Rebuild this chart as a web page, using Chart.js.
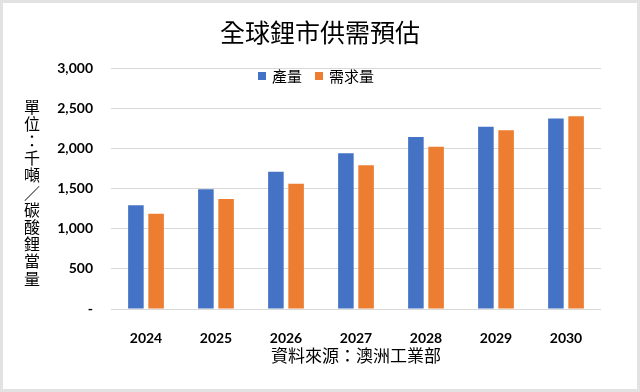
<!DOCTYPE html>
<html>
<head>
<meta charset="utf-8">
<script src="https://cdn.jsdelivr.net/npm/chart.js@4/dist/chart.umd.min.js"></script>
<style>
    body { margin: 0; background: #fff; }
    #chart { display: block; }
</style>
</head>
<body>
<canvas id="chart" width="640" height="392"></canvas>
<script>
const years = ['2024', '2025', '2026', '2027', '2028', '2029', '2030'];
const production = [1290, 1490, 1710, 1940, 2140, 2270, 2370];
const demand = [1185, 1370, 1560, 1790, 2020, 2225, 2400];
const seriesNames = ['產量', '需求量'];
const seriesColors = ['#4472C4', '#ED7D31'];
const chartTitle = '全球鋰市供需預估';
const yTitle = '單位：千噸／碳酸鋰當量';
const sourceNote = '資料來源：澳洲工業部';

const cjkFont = '"Noto Sans CJK TC", "Noto Sans", sans-serif';
const numFont = 'Lato, "Noto Sans CJK TC", sans-serif';

// white background + light frame round the whole picture
const framePlugin = {
    id: 'frame',
    beforeDraw(chart) {
        const ctx = chart.ctx;
        ctx.save();
        ctx.fillStyle = '#fff';
        ctx.fillRect(0, 0, chart.width, chart.height);
        ctx.restore();
    },
    afterDraw(chart) {
        const ctx = chart.ctx;
        ctx.save();
        ctx.strokeStyle = '#e2e2e2';
        ctx.lineWidth = 3;
        ctx.strokeRect(1.5, 1.5, chart.width - 3, chart.height - 3);
        ctx.restore();
    }
};

// upright stacked y-axis title (Excel style)
const verticalTitlePlugin = {
    id: 'verticalTitle',
    afterDraw(chart) {
        const ctx = chart.ctx;
        const chars = Array.from(yTitle);
        const step = 17.2;
        const midY = (chart.chartArea.top + chart.chartArea.bottom) / 2 + 4;
        const startY = midY - step * (chars.length - 1) / 2;
        ctx.save();
        ctx.font = '16px ' + cjkFont;
        ctx.fillStyle = '#000';
        ctx.textAlign = 'center';
        ctx.textBaseline = 'middle';
        chars.forEach((c, i) => ctx.fillText(c, 32, startY + i * step));
        ctx.restore();
    }
};

// legend drawn inside the plot, left of centre like the original
const legendPlugin = {
    id: 'insideLegend',
    afterDraw(chart) {
        const ctx = chart.ctx;
        const box = 8, gap = 6, itemGap = 13;
        ctx.save();
        ctx.font = '15px ' + cjkFont;
        const items = chart.data.datasets.map(ds => ({
            label: ds.label,
            color: ds.backgroundColor,
            w: box + gap + ctx.measureText(ds.label).width
        }));
        const total = items.reduce((s, it) => s + it.w, 0) + itemGap * (items.length - 1);
        let x = 316 - total / 2;
        const y = 76;
        ctx.textBaseline = 'middle';
        ctx.textAlign = 'left';
        items.forEach(it => {
            ctx.fillStyle = it.color;
            ctx.fillRect(x, y - box / 2, box, box);
            ctx.fillStyle = '#000';
            ctx.fillText(it.label, x + box + gap, y);
            x += it.w + itemGap;
        });
        ctx.restore();
    }
};

new Chart(document.getElementById('chart'), {
    type: 'bar',
    data: {
        labels: years,
        datasets: [
            {
                label: seriesNames[0],
                data: production,
                backgroundColor: seriesColors[0],
                barPercentage: 0.77,
                categoryPercentage: 0.577
            },
            {
                label: seriesNames[1],
                data: demand,
                backgroundColor: seriesColors[1],
                barPercentage: 0.77,
                categoryPercentage: 0.577
            }
        ]
    },
    options: {
        responsive: false,
        animation: false,
        devicePixelRatio: 1,
        // equal side padding keeps the title centred on the canvas
        layout: { padding: { left: 39, right: 39, top: 0, bottom: 0 } },
        scales: {
            x: {
                grid: { display: false },
                border: { display: false },
                ticks: {
                    color: '#000',
                    padding: 13,
                    font: { family: numFont, size: 14, weight: 'bold' }
                },
                title: {
                    display: true,
                    text: sourceNote,
                    color: '#000',
                    font: { family: cjkFont, size: 17 },
                    padding: { top: 0, bottom: 26 }
                },
                afterFit(scale) { scale.height = 83; }
            },
            y: {
                min: 0,
                max: 3000,
                grid: { color: '#d9d9d9', drawTicks: false },
                border: { display: false },
                ticks: {
                    stepSize: 500,
                    color: '#000',
                    padding: 18,
                    font: { family: numFont, size: 14, weight: 'bold' },
                    callback: v => v === 0 ? '-' : v.toLocaleString('en-US')
                },
                afterFit(scale) { scale.width = 72; }
            }
        },
        plugins: {
            legend: { display: false },
            tooltip: { enabled: false },
            title: {
                display: true,
                text: chartTitle,
                color: '#000',
                font: { family: cjkFont, size: 25, weight: 'normal', lineHeight: 1.2 },
                padding: { top: 17, bottom: 21 }
            }
        }
    },
    plugins: [framePlugin, verticalTitlePlugin, legendPlugin]
});
</script>
</body>
</html>
